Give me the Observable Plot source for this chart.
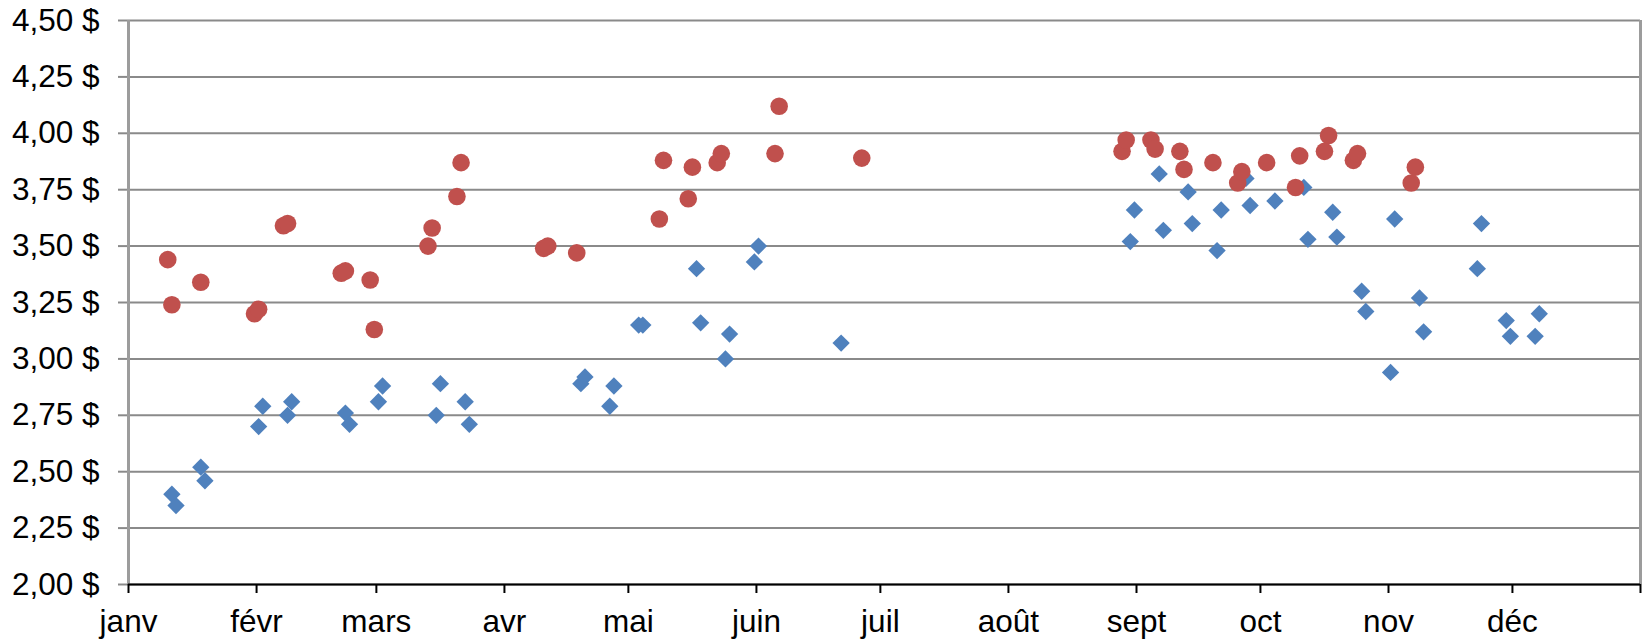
<!DOCTYPE html>
<html>
<head>
<meta charset="utf-8">
<script src="https://cdn.jsdelivr.net/npm/d3@7"></script>
<script src="https://cdn.jsdelivr.net/npm/@observablehq/plot@0.6"></script>
<style>
  html, body { margin: 0; padding: 0; background: #fff; }
  #chart svg { display: block; }
</style>
</head>
<body>
<div id="chart"></div>
<script>
const monthLabels = ["janv", "févr", "mars", "avr", "mai", "juin", "juil", "août", "sept", "oct", "nov", "déc"];
const yTicks = [2.00, 2.25, 2.50, 2.75, 3.00, 3.25, 3.50, 3.75, 4.00, 4.25, 4.50];
const xStart = "2012-01-01";
const xEnd = "2013-01-01";

const redDates = ["2012-01-10","2012-01-11","2012-01-18","2012-01-31","2012-02-01","2012-02-07","2012-02-08","2012-02-21","2012-02-22","2012-02-28","2012-02-29","2012-03-13","2012-03-14","2012-03-20","2012-03-21","2012-04-10","2012-04-11","2012-04-18","2012-05-08","2012-05-09","2012-05-15","2012-05-16","2012-05-22","2012-05-23","2012-06-05","2012-06-06","2012-06-26","2012-08-28","2012-08-29","2012-09-04","2012-09-05","2012-09-11","2012-09-12","2012-09-19","2012-09-25","2012-09-26","2012-10-02","2012-10-09","2012-10-10","2012-10-16","2012-10-17","2012-10-23","2012-10-24","2012-11-06","2012-11-07"];
const redValues = [3.44,3.24,3.34,3.20,3.22,3.59,3.60,3.38,3.39,3.35,3.13,3.50,3.58,3.72,3.87,3.49,3.50,3.47,3.62,3.88,3.71,3.85,3.87,3.91,3.91,4.12,3.89,3.92,3.97,3.97,3.93,3.92,3.84,3.87,3.78,3.83,3.87,3.76,3.90,3.92,3.99,3.88,3.91,3.78,3.85];

const blueDates = ["2012-01-11","2012-01-12","2012-01-18","2012-01-19","2012-02-01","2012-02-02","2012-02-08","2012-02-09","2012-02-22","2012-02-23","2012-03-01","2012-03-02","2012-03-15","2012-03-16","2012-03-22","2012-03-23","2012-04-19","2012-04-20","2012-04-26","2012-04-27","2012-05-03","2012-05-04","2012-05-17","2012-05-18","2012-05-24","2012-05-25","2012-05-31","2012-06-01","2012-06-21","2012-08-30","2012-08-31","2012-09-06","2012-09-07","2012-09-13","2012-09-14","2012-09-20","2012-09-21","2012-09-27","2012-09-28","2012-10-04","2012-10-11","2012-10-12","2012-10-18","2012-10-19","2012-10-25","2012-10-26","2012-11-01","2012-11-02","2012-11-08","2012-11-09","2012-11-22","2012-11-23","2012-11-29","2012-11-30","2012-12-06","2012-12-07"];
const blueValues = [2.40,2.35,2.52,2.46,2.70,2.79,2.75,2.81,2.76,2.71,2.81,2.88,2.75,2.89,2.81,2.71,2.89,2.92,2.79,2.88,3.15,3.15,3.40,3.16,3.00,3.11,3.43,3.50,3.07,3.52,3.66,3.82,3.57,3.74,3.60,3.48,3.66,3.80,3.68,3.70,3.76,3.53,3.65,3.54,3.30,3.21,2.94,3.62,3.27,3.12,3.40,3.60,3.17,3.10,3.10,3.20];

// each point sits in the middle of its day
const toDate = s => new Date(s + "T12:00:00Z");
const red = redDates.map((d, i) => ({date: toDate(d), value: redValues[i]}));
const blue = blueDates.map((d, i) => ({date: toDate(d), value: blueValues[i]}));

const start = new Date(xStart + "T00:00:00Z");
const end = new Date(xEnd + "T00:00:00Z");
const monthTicks = d3.utcMonth.range(start, new Date(end.getTime() + 1));

const yFormat = v => v.toFixed(2).replace(".", ",") + " $";
const xFormat = d => d.getUTCFullYear() === start.getUTCFullYear() ? monthLabels[d.getUTCMonth()] : "";

const chart = Plot.plot({
  width: 1647,
  height: 641,
  marginLeft: 128,
  marginRight: 7,
  marginTop: 20,
  marginBottom: 57,
  style: {fontFamily: "'Liberation Sans', Arial, sans-serif", fontSize: "31.5px", color: "#000", background: "#fff"},
  x: {type: "utc", domain: [start, end]},
  y: {domain: [2, 4.5]},
  marks: [
    Plot.gridY(yTicks, {stroke: "#8a8a8a", strokeOpacity: 1, strokeWidth: 2}),
    Plot.axisY(yTicks, {tickSize: 10, tickPadding: 19, tickFormat: yFormat, stroke: "#8a8a8a", strokeWidth: 2, fill: "#000", label: null}),
    Plot.ruleX([start], {stroke: "#9c9c9c", strokeWidth: 3}),
    Plot.ruleX([end], {stroke: "#9c9c9c", strokeWidth: 3}),
    Plot.ruleY([2], {stroke: "#000", strokeWidth: 2}),
    Plot.axisX(monthTicks, {tickSize: 9, tickPadding: 16, tickFormat: xFormat, stroke: "#000", strokeWidth: 2, fill: "#000", label: null}),
    Plot.dot(blue, {x: "date", y: "value", symbol: "diamond2", r: 7.8, fill: "#4F81BD", stroke: "none"}),
    Plot.dot(red, {x: "date", y: "value", symbol: "circle", r: 8.8, fill: "#C0504D", stroke: "none"})
  ]
});
document.getElementById("chart").appendChild(chart);
</script>
</body>
</html>
